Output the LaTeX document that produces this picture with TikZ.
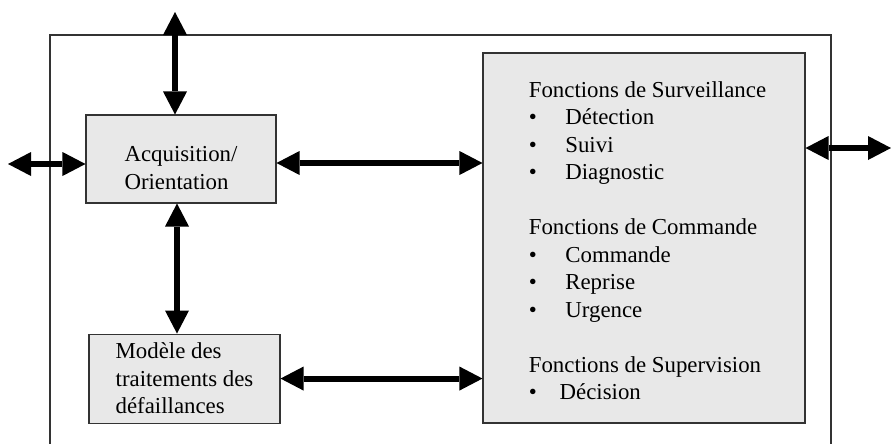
\documentclass[tikz,border=0pt]{standalone}
\usepackage{fontspec}
\setmainfont{Liberation Serif}
\usetikzlibrary{positioning, arrows.meta}
\definecolor{boxgray}{RGB}{232,232,232}
\newcommand{\itemdot}[1][1.6em]{\makebox[#1][l]{•}}

\begin{document}
\begin{tikzpicture}[font={\fontsize{13pt}{15.65pt}\selectfont}]
    \tikzstyle{block} = [rectangle,inner sep=0pt,align=left,draw=black!80,line width=0.6pt,fill=boxgray]
    \tikzstyle{link} = [line width=0.12cm,{Triangle[length=0.46cm,width=0.48cm,line width=0pt]}-{Triangle[length=0.46cm,width=0.48cm,line width=0pt]}]

    \useasboundingbox (0,0) rectangle (17.82,-8.86);
    \draw [black!80,line width=0.6pt] (1.0,-9.5) -- (1.0,-0.70) -- (16.62,-0.70) -- (16.62,-9.5);

    \node (acq) [block, minimum width=3.8cm, minimum height=1.76cm] at (3.62,-3.18) {};
    \node (acqtxt) [align=left, yshift=-0.18cm] at (acq.center) {Acquisition/\\Orientation};

    \node (model) [block, minimum width=3.82cm, minimum height=1.78cm, below=2.6cm of acq, xshift=0.07cm] {Modèle des\\traitements des\\défaillances};

    \node (sup) [block, minimum width=6.44cm, minimum height=7.40cm] at (12.88,-4.76) {};
    \node (suptxt) [align=left, inner sep=0pt, anchor=north west] at ([xshift=0.92cm, yshift=-0.57cm]sup.north west)
        {Fonctions de Surveillance\\
         \itemdot Détection\\
         \itemdot Suivi\\
         \itemdot Diagnostic\\[15.65pt]
         Fonctions de Commande\\
         \itemdot Commande\\
         \itemdot Reprise\\
         \itemdot Urgence\\[15.65pt]
         Fonctions de Supervision\\
         \itemdot[1.1em] Décision};

    \coordinate (topend) at (3.50,-0.24);
    \coordinate (leftend) at (0.16,-3.28);
    \coordinate (rightend) at (17.82,-2.96);

    \draw [link] (topend) -- (topend |- acq.north);
    \draw [link] (leftend) -- (leftend -| acq.west);
    \draw [link] ([yshift=-0.08cm]acq.east) -- ([yshift=-0.08cm]acq.east -| sup.west);
    \draw [link] ([xshift=-0.08cm]acq.south) -- ([xshift=-0.08cm]acq.south |- model.north);
    \draw [link] (model.east) -- (model.east -| sup.west);
    \draw [link] (sup.east |- rightend) -- (rightend);

\end{tikzpicture}
\end{document}
